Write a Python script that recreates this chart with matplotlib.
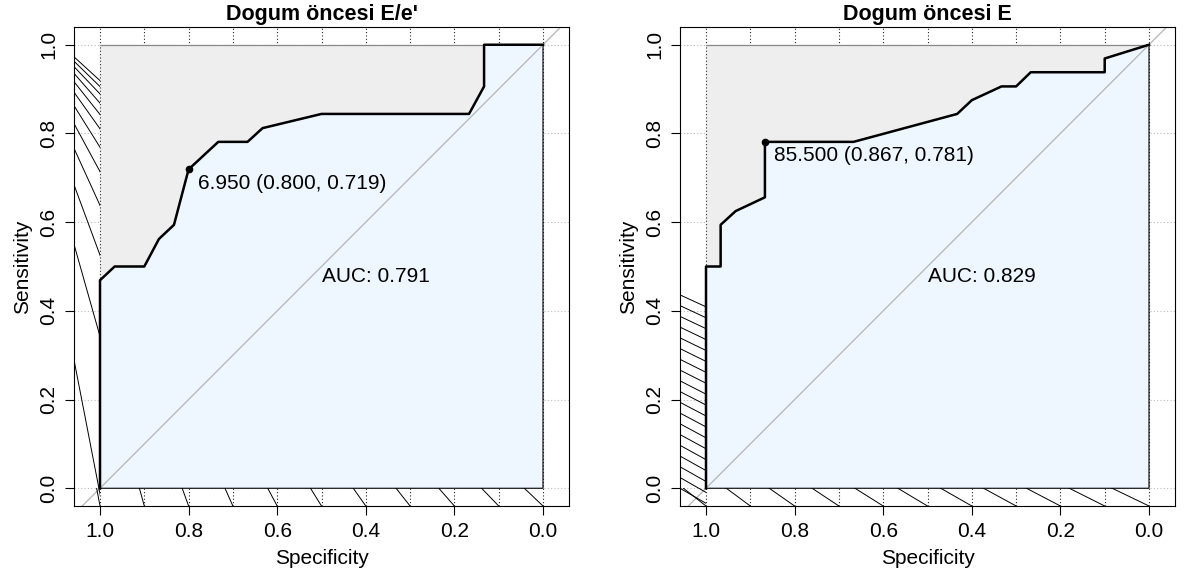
import numpy as np
import matplotlib
matplotlib.use('Agg')
import matplotlib.pyplot as plt
from matplotlib.patches import Rectangle

plt.rcParams['font.family'] = ['Liberation Sans', 'DejaVu Sans']

# left panel: Dogum oncesi E/e'
title_ee = "Dogum öncesi E/e'"
spec_ee = [1.0, 1.0, 0.967, 0.9, 0.867, 0.833, 0.8, 0.733, 0.667, 0.633, 0.5, 0.167, 0.133, 0.133, 0.0]
sens_ee = [0.0, 0.469, 0.5, 0.5, 0.562, 0.594, 0.719, 0.781, 0.781, 0.812, 0.844, 0.844, 0.906, 1.0, 1.0]
thr_ee = (6.950, 0.800, 0.719)
auc_ee = 0.791

# right panel: Dogum oncesi E
title_e = "Dogum öncesi E"
spec_e = [1.0, 1.0, 0.967, 0.967, 0.933, 0.867, 0.867, 0.667, 0.433, 0.4, 0.333, 0.3, 0.267, 0.1, 0.1, 0.0]
sens_e = [0.0, 0.5, 0.5, 0.594, 0.625, 0.656, 0.781, 0.781, 0.844, 0.875, 0.906, 0.906, 0.938, 0.938, 0.969, 1.0]
thr_e = (85.500, 0.867, 0.781)
auc_e = 0.829

xticks = [1.0, 0.8, 0.6, 0.4, 0.2, 0.0]
yticks = [0.0, 0.2, 0.4, 0.6, 0.8, 1.0]

XL, XR = 1.0587, -0.0587
YB, YT = -0.04, 1.04


def hatch(ax, origin, targets, clip):
    # rays from origin through each target, only shown inside clip rect
    rect = Rectangle(clip[0], clip[1], clip[2], transform=ax.transData)
    ox, oy = origin
    for tx, ty in targets:
        ex, ey = ox + 4 * (tx - ox), oy + 4 * (ty - oy)
        ln, = ax.plot([ox, ex], [oy, ey], color='black', lw=0.7, zorder=2.6)
        ln.set_clip_path(rect)


def draw_roc(ax, title, spec, sens, thr, auc):
    ax.set_xlim(XL, XR)
    ax.set_ylim(YB, YT)

    for gx in np.arange(0, 1.01, 0.1):
        ax.axvline(gx, color='#222222', ls=(0, (1, 2)), lw=0.8, zorder=0)
    for gy in yticks:
        ax.axhline(gy, color='#BBBBBB', ls=(0, (1, 2)), lw=0.8, zorder=0)

    # max auc polygon + auc polygon
    ax.add_patch(Rectangle((0, 0), 1, 1, fc='#EEEEEE', ec='none', zorder=1))
    ax.plot([1, 1], [0, 1], color='#333333', ls=(0, (1, 2)), lw=0.8, zorder=1.5)
    ax.plot([1, 0], [1, 1], color='#888888', lw=0.9, zorder=1.5)
    ax.fill(list(spec) + [0.0], list(sens) + [0.0], fc='#EEF6FF', ec='black', lw=0.8, zorder=2)

    ax.plot([1.2, -0.2], [-0.2, 1.2], color='#B5B5B5', lw=0.9, zorder=2.5)
    ax.plot(spec, sens, color='black', lw=1.8, zorder=3)

    t, sp, se = thr
    ax.plot([sp], [se], 'o', color='black', ms=4.5, zorder=4)
    ax.annotate(f"{t:.3f} ({sp:.3f}, {se:.3f})", (sp, se), xytext=(9, -14),
                textcoords='offset pixels', ha='left', va='center', fontsize=15, zorder=5)
    ax.text(0.5, 0.5, f"AUC: {auc:.3f}", ha='left', va='top', fontsize=15, zorder=5)

    ax.set_xticks(xticks)
    ax.set_xticklabels([f"{v:.1f}" for v in xticks])
    ax.set_yticks(yticks)
    ax.set_yticklabels([f"{v:.1f}" for v in yticks], rotation=90, va='center')
    ax.tick_params(direction='out', length=6.5, width=0.8, labelsize=15, pad=5)
    for s in ax.spines.values():
        s.set_linewidth(0.8)

    ax.set_xlabel('Specificity', fontsize=15)
    ax.xaxis.set_label_coords(0.5, -52 / 479)
    ax.xaxis.label.set_va('center')
    ax.set_ylabel('Sensitivity', fontsize=15)
    ax.yaxis.set_label_coords(-51 / 495, 0.5)
    ax.yaxis.label.set_va('center')
    ax.set_title(title, fontsize=15.5, fontweight='bold', pad=5)


fig = plt.figure(figsize=(11.9, 5.77), dpi=100)
ax1 = fig.add_axes([74 / 1190, 71 / 577, 495 / 1190, 479 / 577])
ax2 = fig.add_axes([680 / 1190, 71 / 577, 495 / 1190, 479 / 577])

draw_roc(ax1, title_ee, spec_ee, sens_ee, thr_ee, auc_ee)
draw_roc(ax2, title_e, spec_e, sens_e, thr_e, auc_e)

left_strip = ((1.0, YB), XL - 1.0, YT - YB)
bottom_strip = ((XR, YB), XL - XR, -YB)
bottom_targets = [(x, YB) for x in np.arange(0, 1.01, 0.1)]

# left panel shading lines
p = (1.22, 1.12)
ang = np.radians([42.4 + 1.70 * i + 0.148 * i * i for i in range(12)])
hatch(ax1, p, [(p[0] - np.cos(a), p[1] - np.sin(a)) for a in ang], left_strip)
hatch(ax1, p, bottom_targets, bottom_strip)

# right panel shading lines
hatch(ax2, (4.69, 2.1), [(XL, y) for y in np.linspace(0.436, 0.0, 19)], left_strip)
hatch(ax2, (2.575, 1.2), bottom_targets, bottom_strip)

fig.savefig('out.png', dpi=100)
